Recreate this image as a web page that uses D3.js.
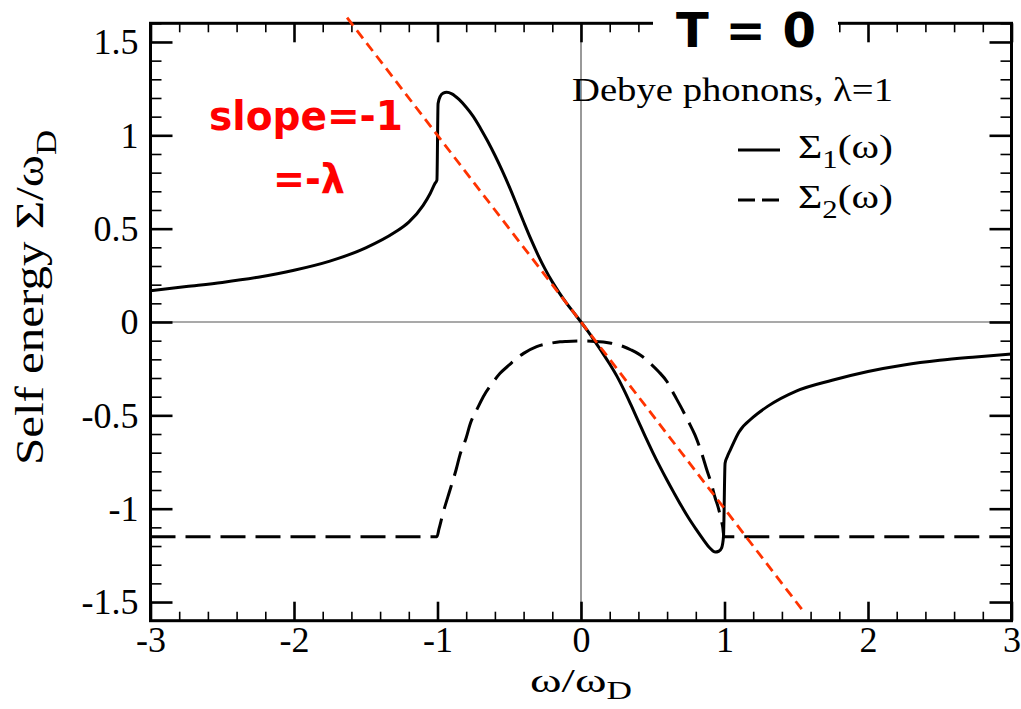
<!DOCTYPE html>
<html>
<head>
<meta charset="utf-8">
<script src="https://cdn.jsdelivr.net/npm/d3@7"></script>
<style>
  body { margin: 0; background: #fff; }
  text { font-family: "Liberation Serif", "Times New Roman", serif; fill: #000; }
</style>
</head>
<body>
<svg id="chart" width="1021" height="709"></svg>
<script>
// Axis ticks
const xMajorTicks = [-3, -2, -1, 0, 1, 2, 3];
const yMajorTicks = [-1.5, -1, -0.5, 0, 0.5, 1, 1.5];

// Real part of the self energy, Sigma_1(omega), in units of omega_D
const omega1 = [-3, -2.75, -2.5, -2.25, -2.0, -1.75, -1.5, -1.3, -1.2, -1.1, -1.05, -1.017, -1.004,
  -0.996, -0.98, -0.96, -0.936, -0.9, -0.85, -0.8, -0.75, -0.7, -0.65, -0.6, -0.55, -0.5, -0.45,
  -0.4, -0.35, -0.3, -0.25, -0.2, -0.15, -0.1, -0.05, 0,
  0.05, 0.1, 0.15, 0.2, 0.25, 0.3, 0.35, 0.4, 0.45, 0.5, 0.55, 0.6, 0.65, 0.7, 0.75, 0.8, 0.85,
  0.9, 0.935, 0.96, 0.98, 0.993, 1.004, 1.02, 1.04, 1.1, 1.2, 1.3, 1.5, 1.75, 2.0, 2.25, 2.5, 2.75, 3.0];
const sigma1 = [0.168, 0.19, 0.212, 0.24, 0.277, 0.326, 0.397, 0.479, 0.535, 0.625, 0.69, 0.743, 0.76,
  1.17, 1.21, 1.226, 1.23, 1.222, 1.192, 1.15, 1.10, 1.037, 0.968, 0.893, 0.812, 0.725, 0.632,
  0.537, 0.445, 0.36, 0.283, 0.215, 0.155, 0.1, 0.05, 0,
  -0.052, -0.108, -0.165, -0.225, -0.29, -0.365, -0.447, -0.532, -0.617, -0.698, -0.775, -0.848, -0.918, -0.986, -1.05, -1.108, -1.163,
  -1.212, -1.232, -1.228, -1.21, -1.15, -0.757, -0.72, -0.686, -0.59, -0.51, -0.452, -0.37, -0.312, -0.265, -0.23, -0.205, -0.187, -0.171];

// Imaginary part of the self energy, Sigma_2(omega)
const omega2 = [-3, -1.004, -0.99, -0.96, -0.913, -0.87, -0.843, -0.8, -0.774, -0.72, -0.681, -0.62, -0.564,
  -0.5, -0.448, -0.4, -0.309, -0.2, -0.146, -0.1, 0,
  0.1, 0.2, 0.29, 0.35, 0.43, 0.48, 0.54, 0.6, 0.65, 0.7, 0.75, 0.794, 0.84, 0.876, 0.91, 0.934,
  0.955, 0.98, 0.988, 0.996, 3];
const sigma2 = [-1.15, -1.15, -1.11, -1.02, -0.9, -0.79, -0.71, -0.62, -0.55, -0.46, -0.40, -0.33, -0.275,
  -0.23, -0.194, -0.168, -0.132, -0.112, -0.106, -0.104, -0.102,
  -0.104, -0.112, -0.13, -0.15, -0.186, -0.22, -0.265, -0.32, -0.39, -0.46, -0.535, -0.605, -0.7, -0.79, -0.87, -0.94,
  -0.99, -1.07, -1.10, -1.15, -1.15];

// Low-frequency slope line, Sigma_1 = -lambda * omega
const slopeOmega = [-1.63, 1.54];
const slopeSigma = [1.63, -1.54];

const svg = d3.select("#chart");
const x = d3.scaleLinear().domain([-3, 3]).range([150.5, 1011.5]);
const y = d3.scaleLinear().domain([-1.6, 1.6]).range([620.7, 23.3]);
const [x0, x1] = x.range();
const [y0, y1] = [y.range()[1], y.range()[0]];

const xMinor = d3.range(-3, 3.001, 0.2).map(v => +v.toFixed(2)).filter(v => !xMajorTicks.includes(v));
const yMinor = d3.range(-1.6, 1.601, 0.1).map(v => +v.toFixed(2)).filter(v => !yMajorTicks.includes(v));

// Zero lines
svg.append("line").attr("x1", x0).attr("x2", x1).attr("y1", y(0)).attr("y2", y(0))
  .attr("stroke", "#555").attr("stroke-width", 1.2);
svg.append("line").attr("x1", x(0)).attr("x2", x(0)).attr("y1", y0).attr("y2", y1)
  .attr("stroke", "#555").attr("stroke-width", 1.2);

// Axes: ticks point into the plot on all four sides
function styleAxis(g, width) {
  g.select(".domain").remove();
  g.selectAll(".tick line").attr("stroke", "#000").attr("stroke-width", width);
  g.selectAll("text").style("font-family", "'Liberation Serif', serif").style("font-size", "36px").attr("fill", "#000");
}
const fmt = d => (d === 0 ? "0" : String(d));

svg.append("g").attr("transform", `translate(0,${y1})`)
  .call(d3.axisBottom(x).tickValues(xMajorTicks).tickSize(-19).tickPadding(6).tickFormat(fmt))
  .call(g => styleAxis(g, 2.6));
svg.append("g").attr("transform", `translate(0,${y1})`)
  .call(d3.axisBottom(x).tickValues(xMinor).tickSize(-9).tickFormat(""))
  .call(g => styleAxis(g, 1.6));
svg.append("g").attr("transform", `translate(0,${y0})`)
  .call(d3.axisTop(x).tickValues(xMajorTicks).tickSize(-19).tickFormat(""))
  .call(g => styleAxis(g, 2.6));
svg.append("g").attr("transform", `translate(0,${y0})`)
  .call(d3.axisTop(x).tickValues(xMinor).tickSize(-9).tickFormat(""))
  .call(g => styleAxis(g, 1.6));

svg.append("g").attr("transform", `translate(${x0},0)`)
  .call(d3.axisLeft(y).tickValues(yMajorTicks).tickSize(-22).tickPadding(12).tickFormat(fmt))
  .call(g => styleAxis(g, 2.6))
  .call(g => g.selectAll("text").attr("dy", "0.33em"));
svg.append("g").attr("transform", `translate(${x0},0)`)
  .call(d3.axisLeft(y).tickValues(yMinor).tickSize(-11).tickFormat(""))
  .call(g => styleAxis(g, 1.6));
svg.append("g").attr("transform", `translate(${x1},0)`)
  .call(d3.axisRight(y).tickValues(yMajorTicks).tickSize(-22).tickFormat(""))
  .call(g => styleAxis(g, 2.6));
svg.append("g").attr("transform", `translate(${x1},0)`)
  .call(d3.axisRight(y).tickValues(yMinor).tickSize(-11).tickFormat(""))
  .call(g => styleAxis(g, 1.6));

// Plot frame
svg.append("rect").attr("x", x0).attr("y", y0).attr("width", x1 - x0).attr("height", y1 - y0)
  .attr("fill", "none").attr("stroke", "#000").attr("stroke-width", 3);

// Curves
const line = d3.line().x(d => x(d[0])).y(d => y(d[1])).curve(d3.curveMonotoneX);
const s1 = omega1.map((w, i) => [w, sigma1[i]]);
const s2 = omega2.map((w, i) => [w, sigma2[i]]);

svg.append("path").datum(s2).attr("d", line)
  .attr("fill", "none").attr("stroke", "#000").attr("stroke-width", 3)
  .attr("stroke-dasharray", "25,10");
svg.append("path").datum(s1).attr("d", line)
  .attr("fill", "none").attr("stroke", "#000").attr("stroke-width", 3)
  .attr("stroke-linejoin", "round");

svg.append("path").datum(slopeOmega.map((w, i) => [w, slopeSigma[i]]))
  .attr("d", d3.line().x(d => x(d[0])).y(d => y(d[1])))
  .attr("fill", "none").attr("stroke", "#ff3300").attr("stroke-width", 2.8)
  .attr("stroke-dasharray", "10,6");

// Title box over the top frame
svg.append("rect").attr("x", 653).attr("y", 0).attr("width", 185).attr("height", 50).attr("fill", "#fff");
svg.append("text").attr("x", 746).attr("y", 47).attr("text-anchor", "middle")
  .style("font-family", "'DejaVu Sans', sans-serif").style("font-weight", "bold").style("font-size", "48px")
  .text("T = 0");

// Annotation for the slope
svg.append("text").attr("x", 209).attr("y", 130)
  .attr("textLength", 194).attr("lengthAdjust", "spacingAndGlyphs")
  .style("font-family", "'DejaVu Sans', sans-serif").style("font-weight", "bold").style("font-size", "40px")
  .style("fill", "#ff0000").text("slope=-1");
svg.append("text").attr("x", 273).attr("y", 193)
  .attr("textLength", 72).attr("lengthAdjust", "spacingAndGlyphs")
  .style("font-family", "'DejaVu Sans', sans-serif").style("font-weight", "bold").style("font-size", "40px")
  .style("fill", "#ff0000").text("=-λ");

// Model label and legend
svg.append("text").attr("x", 572).attr("y", 101)
  .attr("textLength", 321).attr("lengthAdjust", "spacingAndGlyphs")
  .style("font-size", "34px").text("Debye phonons, λ=1");

svg.append("line").attr("x1", 738).attr("x2", 780).attr("y1", 150).attr("y2", 150)
  .attr("stroke", "#000").attr("stroke-width", 3);
svg.append("line").attr("x1", 738).attr("x2", 780).attr("y1", 200).attr("y2", 200)
  .attr("stroke", "#000").attr("stroke-width", 3).attr("stroke-dasharray", "17,7");

function sigmaLabel(yPos, idx) {
  const t = svg.append("text").attr("x", 798).attr("y", yPos)
    .attr("textLength", 95).attr("lengthAdjust", "spacingAndGlyphs")
    .style("font-size", "34px");
  t.append("tspan").text("Σ");
  t.append("tspan").attr("dy", 10).style("font-size", "25px").text(idx);
  t.append("tspan").attr("dy", -10).text("(ω)");
}
sigmaLabel(158, "1");
sigmaLabel(208, "2");

// Axis titles
const xt = svg.append("text").attr("x", 530).attr("y", 692)
  .attr("textLength", 102).attr("lengthAdjust", "spacingAndGlyphs")
  .style("font-size", "34px");
xt.append("tspan").text("ω/ω");
xt.append("tspan").attr("dy", 7).style("font-size", "25px").text("D");

const yt = svg.append("text").attr("transform", "translate(43,465) rotate(-90)")
  .attr("textLength", 335).attr("lengthAdjust", "spacingAndGlyphs")
  .style("font-size", "41px");
yt.append("tspan").text("Self energy Σ/ω");
yt.append("tspan").attr("dy", 13).style("font-size", "29px").text("D");
</script>
</body>
</html>
